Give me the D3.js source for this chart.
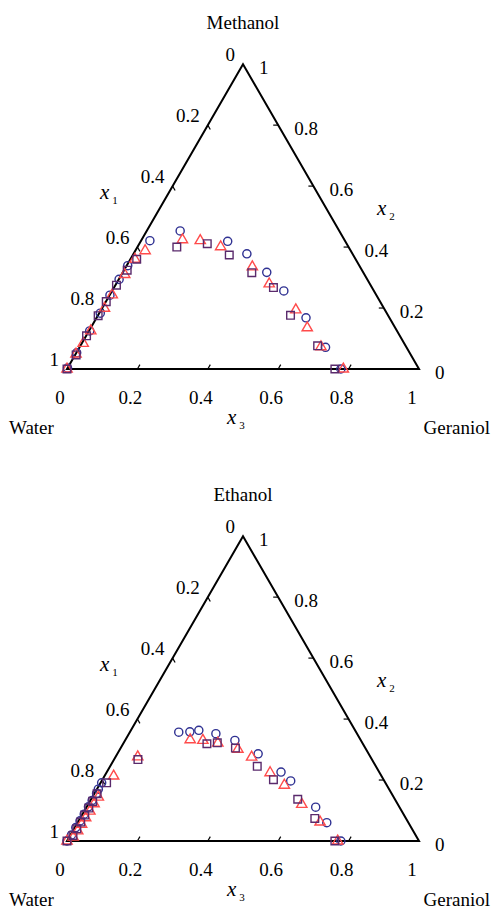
<!DOCTYPE html>
<html>
<head>
<meta charset="utf-8">
<script src="https://cdn.jsdelivr.net/npm/d3@7"></script>
<style>
  body { margin: 0; background: #fff; }
</style>
</head>
<body>
<script>
// composition data: x2 = alcohol, x3 = geraniol (x1 = water = 1 - x2 - x3)
const tickVals = [0, 0.2, 0.4, 0.6, 0.8, 1];
const tickLabels = ["0", "0.2", "0.4", "0.6", "0.8", "1"];
const titles = ["Methanol", "Ethanol"];

// methanol system
const meCircX2 = [0.003, 0.053, 0.125, 0.183, 0.242, 0.294, 0.339, 0.421, 0.453, 0.419, 0.378, 0.317, 0.256, 0.168, 0.071, 0.0];
const meCircX3 = [0.000, 0.001, 0.002, 0.003, 0.001, 0.001, 0.003, 0.025, 0.095, 0.247, 0.322, 0.409, 0.488, 0.595, 0.699, 0.778];
const meTriX2 = [0.0, 0.049, 0.084, 0.125, 0.199, 0.243, 0.310, 0.360, 0.388, 0.424, 0.421, 0.401, 0.335, 0.279, 0.194, 0.135, 0.073, 0.0];
const meTriX3 = [0.0, 0.001, 0.004, 0.005, 0.007, 0.007, 0.009, 0.013, 0.028, 0.116, 0.168, 0.236, 0.359, 0.435, 0.553, 0.615, 0.685, 0.785];
const meSqX2 = [0.0, 0.046, 0.109, 0.175, 0.221, 0.275, 0.324, 0.360, 0.400, 0.411, 0.374, 0.316, 0.267, 0.176, 0.076, 0.0];
const meSqX3 = [0.0, 0.003, 0.001, 0.001, 0.001, 0.003, 0.009, 0.018, 0.112, 0.193, 0.274, 0.367, 0.453, 0.547, 0.674, 0.761];

// ethanol system
const etCircX2 = [0.0, 0.020, 0.044, 0.066, 0.088, 0.112, 0.133, 0.156, 0.170, 0.191, 0.357, 0.358, 0.363, 0.352, 0.330, 0.286, 0.226, 0.197, 0.111, 0.060, 0.0];
const etCircX3 = [0.0, 0.003, 0.003, 0.004, 0.005, 0.005, 0.005, 0.006, 0.004, 0.003, 0.139, 0.170, 0.193, 0.247, 0.312, 0.400, 0.495, 0.537, 0.651, 0.708, 0.778];
const etTriX2 = [0.0, 0.013, 0.033, 0.055, 0.076, 0.098, 0.122, 0.144, 0.213, 0.276, 0.332, 0.330, 0.321, 0.301, 0.275, 0.224, 0.183, 0.120, 0.062, 0.0];
const etTriX3 = [0.0, 0.011, 0.014, 0.014, 0.015, 0.016, 0.016, 0.017, 0.026, 0.063, 0.184, 0.221, 0.268, 0.335, 0.387, 0.465, 0.526, 0.607, 0.688, 0.769];
const etSqX2 = [0.0, 0.018, 0.040, 0.062, 0.085, 0.108, 0.130, 0.155, 0.191, 0.267, 0.319, 0.322, 0.305, 0.245, 0.201, 0.137, 0.074, 0.0];
const etSqX3 = [0.0, 0.008, 0.008, 0.008, 0.008, 0.008, 0.008, 0.008, 0.017, 0.068, 0.238, 0.266, 0.326, 0.418, 0.486, 0.587, 0.667, 0.761];

const WIDTH = 492, HEIGHT = 910;
const side = 352, triH = side * Math.sqrt(3) / 2;
const left = 67, base = 369;
const FONT = "'Liberation Serif', 'Times New Roman', 'DejaVu Serif', serif";

const svg = d3.select("body").append("svg")
  .attr("width", WIDTH).attr("height", HEIGHT)
  .attr("font-family", FONT);

const xs = d3.scaleLinear().domain([0, 1]).range([left, left + side]);
const ys = d3.scaleLinear().domain([0, 1]).range([base, base - triH]);
const pt = (x2, x3) => [xs(x3 + x2 / 2), ys(x2)];

const styles = [
  { shape: d3.symbolCircle, size: 52, color: "#2f3192" },
  { shape: d3.symbolTriangle, size: 46, color: "#ff4b4b" },
  { shape: d3.symbolSquare, size: 58, color: "#5a2a6c" }
];

function drawChart(g, title, series) {
  const A = pt(0, 0), B = pt(0, 1), C = pt(1, 0);

  g.append("path")
    .attr("d", d3.line()([A, B, C, A]) + "Z")
    .attr("fill", "none").attr("stroke", "#000").attr("stroke-width", 2)
    .attr("stroke-linejoin", "miter");

  const tl = 5, c60 = 0.5, s60 = Math.sqrt(3) / 2;
  const inner = tickVals.slice(1, -1);
  inner.forEach(v => {
    // x1 ticks (left edge)
    const p = pt(1 - v, 0);
    g.append("line").attr("x1", p[0]).attr("y1", p[1])
      .attr("x2", p[0] + tl * c60).attr("y2", p[1] + tl * s60)
      .attr("stroke", "#000").attr("stroke-width", 1.2);
    // x2 ticks (right edge)
    const q = pt(v, 1 - v);
    g.append("line").attr("x1", q[0]).attr("y1", q[1])
      .attr("x2", q[0] - tl).attr("y2", q[1])
      .attr("stroke", "#000").attr("stroke-width", 1.2);
    // x3 ticks (base)
    const r = pt(0, v);
    g.append("line").attr("x1", r[0]).attr("y1", r[1])
      .attr("x2", r[0] + tl * c60).attr("y2", r[1] - tl * s60)
      .attr("stroke", "#000").attr("stroke-width", 1.2);
  });

  const fs = 19;
  tickVals.forEach((v, i) => {
    const p = pt(1 - v, 0);
    g.append("text").attr("x", p[0] - 8).attr("y", p[1] - 10).attr("dy", "0.35em")
      .attr("text-anchor", "end").attr("font-size", fs).text(tickLabels[i]);
    const q = pt(v, 1 - v);
    g.append("text").attr("x", q[0] + 16).attr("y", q[1] + 3).attr("dy", "0.35em")
      .attr("text-anchor", "start").attr("font-size", fs).text(tickLabels[i]);
    const r = pt(0, v);
    g.append("text").attr("x", r[0] - 7).attr("y", r[1] + 28).attr("dy", "0.35em")
      .attr("text-anchor", "middle").attr("font-size", fs).text(tickLabels[i]);
  });

  const axTitle = (x, y, sub) => {
    const t = g.append("text").attr("x", x).attr("y", y).attr("font-size", 21);
    t.append("tspan").attr("font-style", "italic").text("x");
    t.append("tspan").attr("font-size", 11).attr("dx", 3).attr("dy", 5).text(sub);
  };
  axTitle(100, 199, "1");
  axTitle(377, 215, "2");
  axTitle(227, 424, "3");

  g.append("text").attr("x", 243).attr("y", 29).attr("text-anchor", "middle")
    .attr("font-size", fs).text(title);
  g.append("text").attr("x", 9).attr("y", 434).attr("font-size", fs).text("Water");
  g.append("text").attr("x", 490).attr("y", 434).attr("text-anchor", "end")
    .attr("font-size", fs).text("Geraniol");

  series.forEach((s, k) => {
    const st = styles[k];
    const pts = s[0].map((x2, i) => pt(x2, s[1][i]));
    g.append("g").selectAll("path").data(pts).enter().append("path")
      .attr("transform", d => `translate(${d[0]},${d[1]})`)
      .attr("d", d3.symbol(st.shape, st.size))
      .attr("fill", "none").attr("stroke", st.color).attr("stroke-width", 1.4);
  });
}

drawChart(svg.append("g"), titles[0],
  [[meCircX2, meCircX3], [meTriX2, meTriX3], [meSqX2, meSqX3]]);
drawChart(svg.append("g").attr("transform", "translate(0,472)"), titles[1],
  [[etCircX2, etCircX3], [etTriX2, etTriX3], [etSqX2, etSqX3]]);
</script>
</body>
</html>
